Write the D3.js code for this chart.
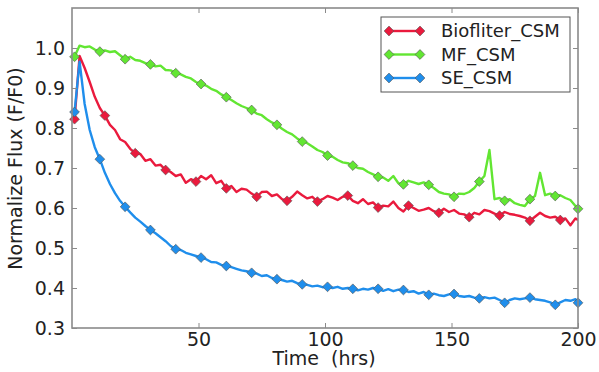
<!DOCTYPE html>
<html>
<head>
<meta charset="utf-8">
<script src="https://cdn.jsdelivr.net/npm/d3@7"></script>
<style>
  body { margin: 0; background: #fff; }
  text { font-family: "DejaVu Sans", sans-serif; fill: #222; }
</style>
</head>
<body>
<div id="chartDiv"></div>
<script>
// time in hours (one reading every 2 hrs, last at 200)
var timeHrs = [1,3,5,7,9,11,13,15,17,19,21,23,25,27,29,31,33,35,37,39,
  41,43,45,47,49,51,53,55,57,59,61,63,65,67,69,71,73,75,77,79,
  81,83,85,87,89,91,93,95,97,99,101,103,105,107,109,111,113,115,117,119,
  121,123,125,127,129,131,133,135,137,139,141,143,145,147,149,151,153,155,157,159,
  161,163,165,167,169,171,173,175,177,179,181,183,185,187,189,191,193,195,197,199,200];

var biofilterFlux = [0.822,0.980,0.950,0.915,0.878,0.850,0.831,0.808,0.795,0.772,
  0.765,0.748,0.737,0.735,0.718,0.722,0.706,0.708,0.695,0.690,
  0.680,0.684,0.663,0.672,0.666,0.680,0.672,0.682,0.662,0.668,
  0.649,0.655,0.640,0.648,0.646,0.636,0.628,0.640,0.641,0.630,
  0.634,0.622,0.618,0.628,0.641,0.632,0.624,0.628,0.616,0.622,
  0.630,0.626,0.620,0.628,0.631,0.618,0.612,0.622,0.610,0.614,
  0.601,0.606,0.604,0.616,0.600,0.591,0.606,0.600,0.593,0.596,
  0.600,0.592,0.588,0.598,0.590,0.595,0.586,0.584,0.577,0.588,
  0.584,0.595,0.592,0.586,0.581,0.590,0.585,0.583,0.580,0.576,
  0.568,0.578,0.588,0.580,0.576,0.578,0.570,0.574,0.557,0.574,0.570];

var mfFlux = [0.978,1.006,1.002,1.004,0.996,0.991,0.994,0.990,0.992,0.982,
  0.972,0.978,0.970,0.968,0.962,0.959,0.954,0.956,0.945,0.944,
  0.937,0.934,0.928,0.924,0.915,0.910,0.906,0.898,0.893,0.884,
  0.877,0.870,0.862,0.855,0.850,0.845,0.836,0.832,0.822,0.814,
  0.808,0.798,0.790,0.784,0.774,0.766,0.762,0.754,0.745,0.740,
  0.731,0.728,0.720,0.714,0.712,0.706,0.700,0.698,0.690,0.684,
  0.678,0.676,0.668,0.680,0.662,0.659,0.668,0.664,0.660,0.664,
  0.658,0.650,0.640,0.636,0.634,0.628,0.636,0.635,0.640,0.650,
  0.666,0.680,0.745,0.622,0.625,0.618,0.622,0.612,0.608,0.605,
  0.622,0.630,0.688,0.632,0.636,0.630,0.632,0.625,0.620,0.605,0.598];

var seFlux = [0.840,0.966,0.860,0.795,0.752,0.722,0.688,0.660,0.637,0.618,
  0.603,0.589,0.576,0.566,0.555,0.545,0.537,0.527,0.517,0.505,
  0.497,0.495,0.488,0.484,0.480,0.476,0.472,0.465,0.464,0.458,
  0.455,0.452,0.448,0.444,0.442,0.438,0.436,0.430,0.432,0.425,
  0.422,0.420,0.416,0.418,0.412,0.409,0.408,0.404,0.406,0.402,
  0.403,0.400,0.403,0.398,0.400,0.398,0.394,0.398,0.396,0.400,
  0.398,0.393,0.397,0.392,0.396,0.395,0.390,0.392,0.386,0.390,
  0.383,0.386,0.382,0.380,0.384,0.385,0.380,0.378,0.380,0.376,
  0.374,0.377,0.374,0.376,0.370,0.363,0.370,0.374,0.372,0.374,
  0.376,0.372,0.370,0.368,0.364,0.358,0.364,0.370,0.368,0.372,0.363];

var seriesNames = ["Biofliter_CSM", "MF_CSM", "SE_CSM"];
var xTicks = [50, 100, 150, 200];
var yTicks = [0.3, 0.4, 0.5, 0.6, 0.7, 0.8, 0.9, 1.0];

var colors = {"Biofliter_CSM": "#ea1a3d", "MF_CSM": "#62e632", "SE_CSM": "#1f8eec"};
// markers every n-th reading, green and blue also on the last one
var markEvery = {"Biofliter_CSM": 6, "MF_CSM": 5, "SE_CSM": 5};
var markLast = {"Biofliter_CSM": false, "MF_CSM": true, "SE_CSM": true};

var series = [biofilterFlux, mfFlux, seFlux].map(function (vals, i) {
  return {
    name: seriesNames[i],
    values: vals.map(function (v, j) { return {t: timeHrs[j], v: v, idx: j}; })
  };
});

var svg = d3.select("#chartDiv").append("svg").attr("width", 599).attr("height", 372),
  margin = {top: 8, right: 21, bottom: 44, left: 72},
  width = 599 - margin.left - margin.right,
  height = 372 - margin.top - margin.bottom;

var g = svg.append("g").attr("transform", "translate(" + margin.left + "," + margin.top + ")");

var x = d3.scaleLinear().domain([0, 200]).range([0, width]),
  y = d3.scaleLinear().domain([0.3, 1.1]).range([height, 0]);

// clip lines to plot area
svg.append("defs").append("clipPath").attr("id", "plotClip")
  .append("rect").attr("width", width).attr("height", height);

var line = d3.line()
  .x(function (d) { return x(d.t); })
  .y(function (d) { return y(d.v); });

var plot = g.append("g").attr("clip-path", "url(#plotClip)");

series.forEach(function (s) {
  plot.append("path")
    .datum(s.values)
    .attr("fill", "none")
    .attr("stroke", colors[s.name])
    .attr("stroke-width", 2.4)
    .attr("stroke-linejoin", "round")
    .attr("d", line);
});

var diamond = d3.symbol().type(d3.symbolSquare).size(48);

series.forEach(function (s) {
  var n = s.values.length;
  var marks = s.values.filter(function (d) {
    return d.idx % markEvery[s.name] === 0 || (markLast[s.name] && d.idx === n - 1);
  });
  g.selectAll(".mk-" + s.name)
    .data(marks)
    .enter().append("path")
    .attr("d", diamond)
    .attr("transform", function (d) {
      return "translate(" + x(d.t) + "," + y(d.v) + ") rotate(45)";
    })
    .attr("fill", colors[s.name])
    .attr("stroke", "#555")
    .attr("stroke-width", 0.6);
});

// axes: ticks point inward on all four sides
var frameColor = "#8a8a8a";

var xAxis = g.append("g").attr("transform", "translate(0," + height + ")")
  .call(d3.axisBottom(x).tickValues(xTicks).tickSize(-5).tickPadding(5).tickFormat(d3.format("d")));
var xTop = g.append("g")
  .call(d3.axisTop(x).tickValues(xTicks).tickSize(-5).tickFormat(""));
var yAxis = g.append("g")
  .call(d3.axisLeft(y).tickValues(yTicks).tickSize(-5).tickPadding(7).tickFormat(d3.format(".1f")));
var yRight = g.append("g").attr("transform", "translate(" + width + ",0)")
  .call(d3.axisRight(y).tickValues(yTicks).tickSize(-5).tickFormat(""));

[xAxis, xTop, yAxis, yRight].forEach(function (a) {
  a.select(".domain").remove();
  a.selectAll("line").attr("stroke", frameColor);
  a.selectAll("text").style("font-size", "19px").style("fill", "#222");
});
xAxis.selectAll("text").attr("dy", "0.71em");

g.append("rect")
  .attr("width", width).attr("height", height)
  .attr("fill", "none")
  .attr("stroke", frameColor)
  .attr("stroke-width", 1.6);

// axis titles
g.append("text")
  .attr("x", width / 2 - 1)
  .attr("y", height + 37)
  .style("text-anchor", "middle")
  .style("font-size", "19px")
  .style("white-space", "pre")
  .text("Time  (hrs)");

g.append("text")
  .attr("transform", "translate(-50," + (height / 2 + 0.5) + ") rotate(-90)")
  .style("text-anchor", "middle")
  .style("font-size", "19px")
  .text("Normalize Flux (F/F0)");

// legend
var legendG = g.append("g").attr("transform", "translate(" + (381 - margin.left) + "," + (17 - margin.top) + ")");

legendG.append("rect")
  .attr("width", 189).attr("height", 75)
  .attr("fill", "#fff")
  .attr("stroke", "#555")
  .attr("stroke-width", 1);

var legend = legendG.selectAll(".legend")
  .data(seriesNames)
  .enter().append("g")
  .attr("class", "legend")
  .attr("transform", function (d, i) { return "translate(0," + (14 + i * 23.5) + ")"; });

legend.append("line")
  .attr("x1", 8).attr("x2", 39)
  .attr("stroke", function (d) { return colors[d]; })
  .attr("stroke-width", 2.4);

legend.selectAll(".lm")
  .data(function (d) { return [{c: d, px: 8}, {c: d, px: 39}]; })
  .enter().append("path")
  .attr("d", diamond)
  .attr("transform", function (d) { return "translate(" + d.px + ",0) rotate(45)"; })
  .attr("fill", function (d) { return colors[d.c]; })
  .attr("stroke", "#555")
  .attr("stroke-width", 0.6);

legend.append("text")
  .attr("x", 60)
  .attr("dy", "0.35em")
  .style("font-size", "18px")
  .text(function (d) { return d; });
</script>
</body>
</html>
